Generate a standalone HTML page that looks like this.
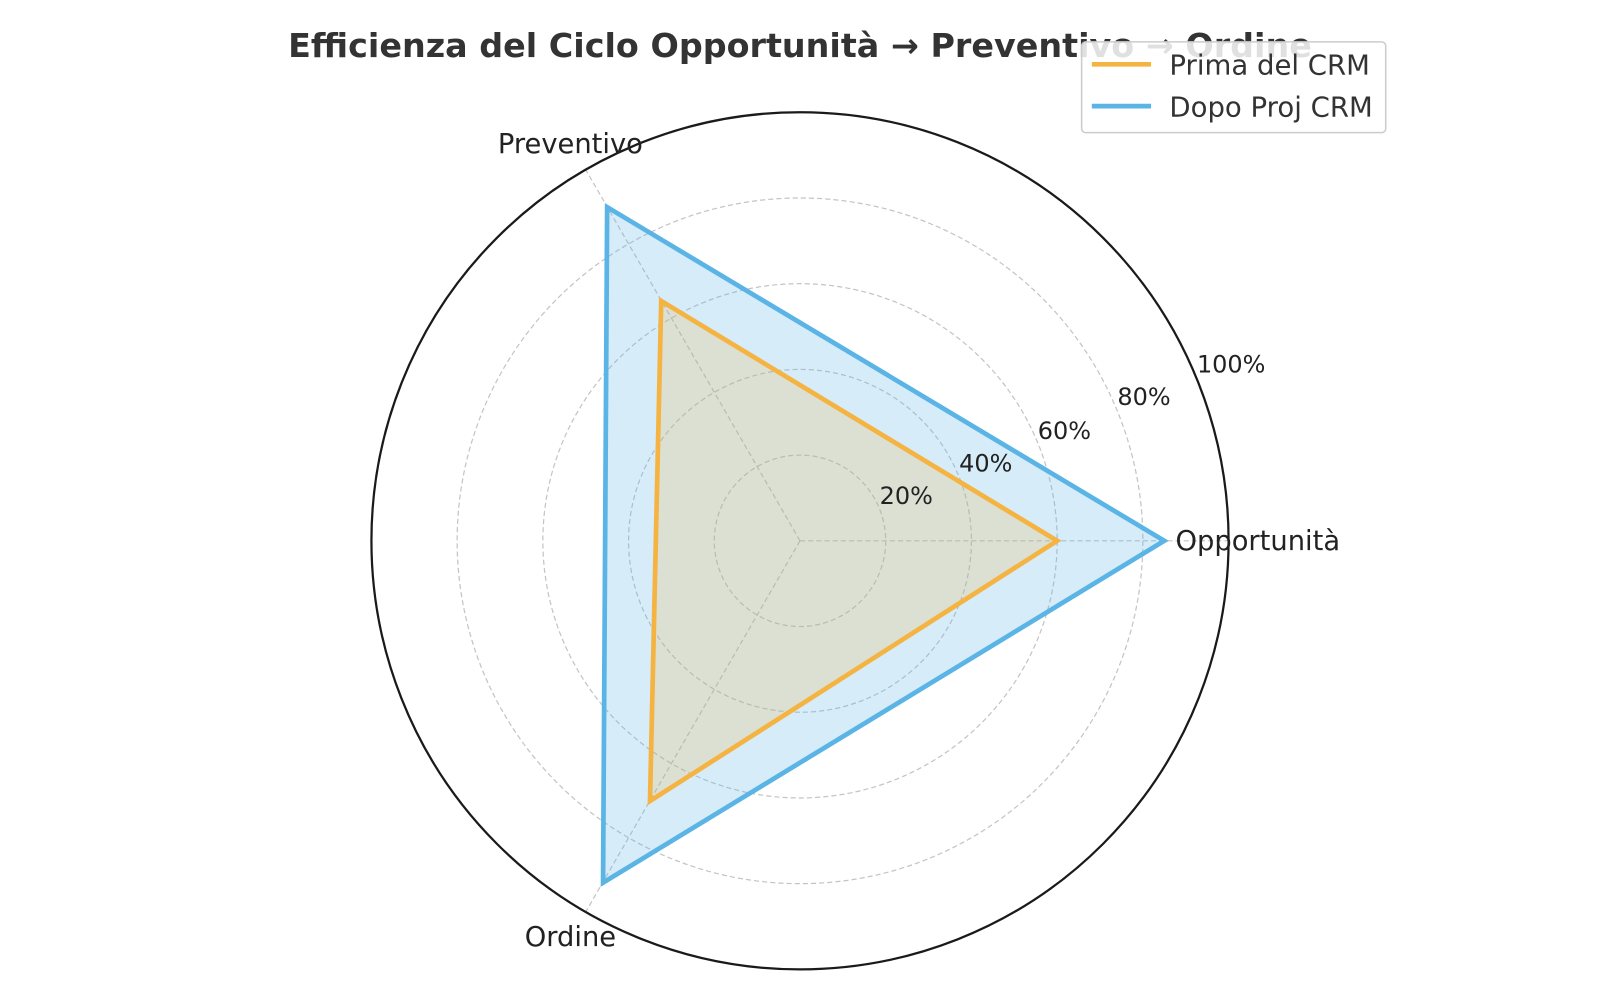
<!DOCTYPE html>
<html><head><meta charset="utf-8"><style>body{margin:0;background:#fff}svg{display:block}</style></head><body>
<svg width="1600" height="1000" viewBox="0 0 1568 980" xmlns="http://www.w3.org/2000/svg" font-family="'DejaVu Sans','Liberation Sans',sans-serif">
<rect width="1568" height="980" fill="#fff"/>
<g fill="none" stroke="#c4c4c4" stroke-width="1.2" stroke-dasharray="5,3">
<circle cx="784" cy="530" r="84"/><circle cx="784" cy="530" r="168"/><circle cx="784" cy="530" r="252"/><circle cx="784" cy="530" r="336"/>
<line x1="784" y1="530" x2="1204" y2="530"/><line x1="784" y1="530" x2="574" y2="166.3"/><line x1="784" y1="530" x2="574" y2="893.7"/>
</g>
<polygon points="1141,530 595,203 591,865" fill="#5ab4e5" fill-opacity="0.25" stroke="#5ab4e5" stroke-width="4.6" stroke-linejoin="miter"/>
<polygon points="1036,530 648,295 637,785" fill="#f5b342" fill-opacity="0.2" stroke="#f5b342" stroke-width="4.6"/>
<circle cx="784" cy="530" r="420" fill="none" stroke="#1a1a1a" stroke-width="2.2"/>
<g font-size="23.5" fill="#222">
<text x="862" y="494">20%</text><text x="940" y="462">40%</text><text x="1017" y="430">60%</text><text x="1095" y="397">80%</text><text x="1173" y="365">100%</text>
</g>
<g font-size="26.8" fill="#222">
<text x="1152" y="539">Opportunità</text>
<text x="559" y="150" text-anchor="middle">Preventivo</text>
<text x="559" y="927" text-anchor="middle">Ordine</text>
</g>
<text x="784" y="56" text-anchor="middle" font-size="32.7" font-weight="bold" fill="#333">Efficienza del Ciclo Opportunità → Preventivo → Ordine</text>
<rect x="1060" y="41" width="298" height="89" rx="4" fill="#fff" fill-opacity="0.85" stroke="#ccc" stroke-width="1.5"/>
<line x1="1070" y1="63" x2="1128" y2="63" stroke="#f5b342" stroke-width="4.6"/>
<line x1="1070" y1="104" x2="1128" y2="104" stroke="#5ab4e5" stroke-width="4.6"/>
<g font-size="27" fill="#333"><text x="1146" y="73">Prima del CRM</text><text x="1146" y="114">Dopo Proj CRM</text></g>
</svg>
</body></html>
